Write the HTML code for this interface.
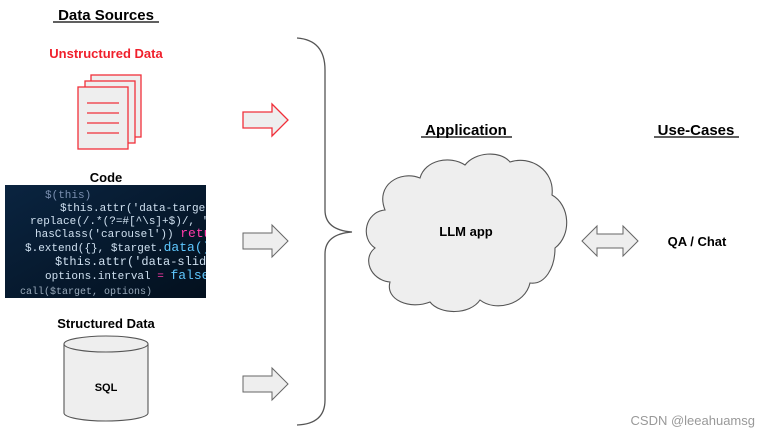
<!DOCTYPE html>
<html><head><style>
body{margin:0;background:#fff;width:765px;height:437px;overflow:hidden;font-family:"Liberation Sans",Arial,sans-serif;}
svg{display:block}
</style></head><body>
<svg width="765" height="437" viewBox="0 0 765 437" font-family="Liberation Sans, Arial, sans-serif" font-weight="bold">
<text x="106" y="20" font-size="15" text-anchor="middle">Data Sources</text>
<line x1="53" y1="22" x2="159" y2="22" stroke="#000" stroke-width="1.3"/>
<text x="106" y="58" font-size="13" fill="#f0202c" text-anchor="middle">Unstructured Data</text>
<g fill="#eee" stroke="#f0303a" stroke-width="1.3">
<rect x="91" y="75" width="50" height="62"/>
<rect x="85" y="81" width="50" height="62"/>
<rect x="78" y="87" width="50" height="62"/>
</g>
<g stroke="#f0303a" stroke-width="1.3">
<line x1="87" y1="103" x2="119" y2="103"/><line x1="87" y1="113" x2="119" y2="113"/>
<line x1="87" y1="123" x2="119" y2="123"/><line x1="87" y1="133" x2="119" y2="133"/>
</g>
<text x="106" y="182" font-size="13" text-anchor="middle">Code</text>
<defs>
<linearGradient id="g" x1="0" y1="0" x2="1" y2="1"><stop offset="0" stop-color="#0a2440"/><stop offset="1" stop-color="#03101e"/></linearGradient>
<clipPath id="c"><rect x="5" y="185" width="201" height="113"/></clipPath>
</defs>
<rect x="5" y="185" width="201" height="113" fill="url(#g)"/>
<g clip-path="url(#c)" font-family="Liberation Mono, monospace" font-weight="normal" font-size="11" fill="#cfe0f0">
<text x="45" y="198" fill="#7a8fb0">$(this)</text>
<text x="60" y="211">$this.attr('data-target</text>
<text x="30" y="224">replace(/.*(?=#[^\s]+$)/, ''))</text>
<text x="35" y="237">hasClass('carousel')) <tspan fill="#ff3aa8" font-size="13">return</tspan></text>
<text x="25" y="251">$.extend({}, $target.<tspan fill="#5fc8ff" font-size="13">data()</tspan>, $</text>
<text x="55" y="265" font-size="12">$this.attr('data-slide-to')</text>
<text x="45" y="279">options.interval <tspan fill="#ff3aa8">=</tspan> <tspan fill="#5fc8ff" font-size="13">false</tspan></text>
<text x="20" y="294" font-size="10" fill="#9ab">call($target, options)</text>
</g>
<text x="106" y="328" font-size="13" text-anchor="middle">Structured Data</text>
<path d="M64 344 V413 A42 8 0 0 0 148 413 V344" fill="#eee" stroke="#555" stroke-width="1.1"/>
<ellipse cx="106" cy="344" rx="42" ry="8" fill="#eee" stroke="#555" stroke-width="1.1"/>
<text x="106" y="391" font-size="11" text-anchor="middle">SQL</text>
<path d="M243 112 H272 V104 L288 120 L272 136 V128 H243 Z" fill="#eee" stroke="#f0303a" stroke-width="1.3"/>
<path d="M243 233 H272 V225 L288 241 L272 257 V249 H243 Z" fill="#eee" stroke="#666" stroke-width="1"/>
<path d="M243 376 H272 V368 L288 384 L272 400 V392 H243 Z" fill="#eee" stroke="#666" stroke-width="1"/>
<path d="M297 38 Q325 40 325 70 V210 Q325 230 352 232 Q325 234 325 254 V400 Q325 424 297 425" fill="none" stroke="#555" stroke-width="1.3"/>
<text x="466" y="135" font-size="15" text-anchor="middle">Application</text>
<line x1="421" y1="137" x2="512" y2="137" stroke="#000" stroke-width="1.3"/>
<path d="M385 210 C375 185 400 170 420 178 C425 160 450 155 465 165 C475 152 500 150 510 162 C530 155 555 170 552 195 C570 205 572 235 555 248 C555 268 545 285 530 283 C525 305 495 312 480 300 C470 315 440 315 430 302 C410 310 385 300 390 282 C370 280 362 258 375 248 C360 238 365 212 385 210 Z" fill="#eee" stroke="#555" stroke-width="1.1"/>
<text x="466" y="236" font-size="13" text-anchor="middle">LLM app</text>
<path d="M582 241 L597 226 V234 H623 V226 L638 241 L623 256 V248 H597 V256 Z" fill="#eee" stroke="#666" stroke-width="1"/>
<text x="696" y="135" font-size="15" text-anchor="middle">Use-Cases</text>
<line x1="654" y1="137" x2="739" y2="137" stroke="#000" stroke-width="1.3"/>
<text x="697" y="246" font-size="13" text-anchor="middle">QA / Chat</text>
<text x="755" y="425" font-size="13" font-weight="normal" fill="#999" text-anchor="end">CSDN @leeahuamsg</text>
</svg>
</body></html>
